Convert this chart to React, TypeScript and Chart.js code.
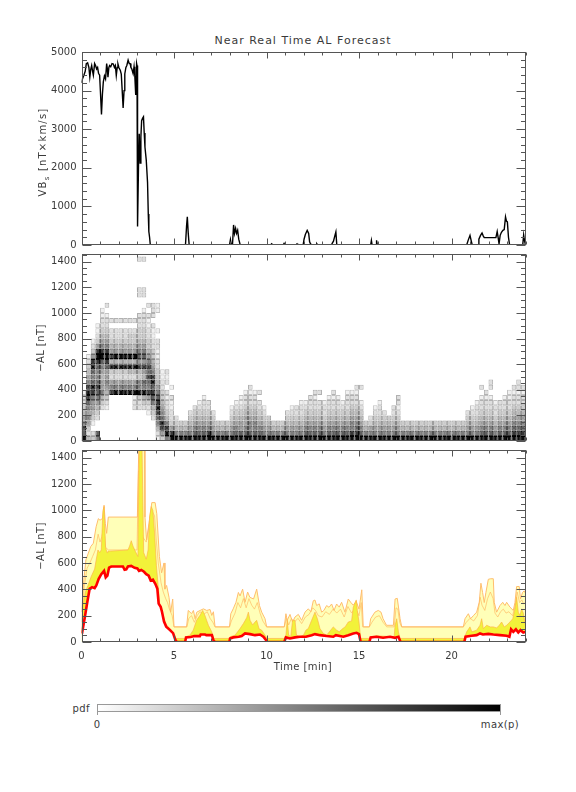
import React, { useEffect, useRef } from 'react';
import { Chart, registerables } from 'chart.js';
Chart.register(...registerables);

const FONT = 'DejaVu Sans';
const TEXT = '#3a3a3a';

// ---------- axes ----------
const TIME_MIN = 0;
const TIME_MAX = 24;
const xTickLabels = [0, 5, 10, 15, 20];
const vbsTickLabels = [0, 1000, 2000, 3000, 4000, 5000];
const alTickLabels = [0, 200, 400, 600, 800, 1000, 1200, 1400];
const VBS_MAX = 5000;
const AL_MAX = 1460;

// ---------- panel 1: VBs ----------
const vbsTime = [
  0, 0.05, 0.13, 0.2, 0.26, 0.33, 0.4, 0.45, 0.5, 0.55,
  0.6, 0.64, 0.71, 0.76, 0.82, 0.87, 0.92, 0.98, 1.03, 1.08,
  1.13, 1.18, 1.24, 1.3, 1.36, 1.4, 1.43, 1.48, 1.52, 1.58,
  1.65, 1.72, 1.78, 1.83, 1.88, 1.93, 1.97, 2.02, 2.06, 2.1,
  2.15, 2.2, 2.25, 2.3, 2.34, 2.4, 2.45, 2.52, 2.58, 2.63,
  2.67, 2.72, 2.79, 2.84, 2.88, 2.93, 2.98, 3.0, 3.03, 3.08,
  3.12, 3.17, 3.21, 3.25, 3.3, 3.35, 3.39, 3.43, 3.5, 3.57,
  3.61, 3.64, 3.68, 3.72,
  5.62, 5.68, 5.72, 5.77, 5.82,
  8.0, 8.05, 8.1, 8.16, 8.22, 8.27, 8.33, 8.38, 8.44, 8.5, 8.58,
  10.22, 10.28, 10.34, 10.9, 10.95, 11.0, 11.6, 11.65, 11.7,
  11.98, 12.03, 12.1, 12.2, 12.28, 12.33, 12.38, 12.45,
  12.68, 12.72, 12.76,
  13.5, 13.55, 13.62, 13.7, 13.75, 13.8,
  15.63, 15.67, 15.71, 15.92, 15.95, 15.99,
  20.82, 20.9, 21.0, 21.07, 21.12,
  21.44, 21.48, 21.57, 21.65, 21.72, 21.77, 22.4, 22.47, 22.52, 22.57,
  22.63, 22.7, 22.78, 22.85, 22.92, 22.97, 23.02, 23.08, 23.14,
  23.85, 23.9, 23.95, 24.0,
];
const vbsValue = [
  4200, 4300, 4400, 4500, 4700, 4720, 4600, 4350, 4550, 4650,
  4500, 4400, 4700, 4650, 4560, 4600, 4450, 4400, 3900, 3380,
  3900, 4230, 4380, 4300, 4700, 4550, 4350, 4600, 4650, 4620,
  4700, 4690, 4600, 4650, 4390, 4600, 4690, 4600, 4560, 4520,
  4430, 4000, 3550, 4000, 4430, 4600, 4650, 4790, 4700, 4700,
  4600, 4560, 4440, 4620, 4400, 3890, 4700, 4650, 480, 2000,
  2880, 2120, 2800, 3220, 3280, 3320, 2900, 2540, 2200, 1620,
  800, 350, 200, 0,
  0, 500, 730, 300, 0,
  0, 140, 0, 0, 520, 300, 430, 300, 380, 150, 0,
  0, 30, 0, 0, 40, 0, 0, 30, 0,
  0, 150, 270, 380, 300, 80, 30, 0,
  0, 30, 0,
  0, 40, 100, 250, 340, 0,
  0, 120, 0, 0, 120, 0,
  0, 120, 250, 100, 0,
  0, 150, 250, 310, 230, 190, 190, 350, 200, 30,
  250, 330, 380, 400, 730, 620, 600, 200, 0,
  0, 260, 100, 0,
];

// ---------- panel 2: pdf histogram ----------
const HEAT_DT = 0.25; // min per column
const HEAT_DV = 40; // nT per row
// each string: one time column, one digit per 40 nT bin from 0 upward (0 = empty, 9 = max)
const heatColumns = [
  '9786543221',
  '42356567898654321',
  '32013455689767985321',
  '67002345678766789853211',
  '00000023465545679865432211',
  '000000123456557898654322102',
  '000000000865239485432202',
  '000000000965239495432202',
  '000000000965239495432202',
  '000000000965239495432202',
  '000000000965249495433202',
  '000000221965249495433202',
  '000000223966348576543322200022000002',
  '000000234967458576543322210022000002',
  '000001235867878654332211202',
  '000023467879865433221120222',
  '124678987654332211220100011',
  '35897654332211',
  '69864322120212',
  '98532211201',
  '96432', '9643', '9643', '965432', '9765432', '97654321', '976543221', '98654322', '965432', '9643',
  '9643', '9643', '9654321', '97654321', '975543211', '9765543221', '97665432212', '9766543221', '9765432202', '9654321',
  '96543', '9643', '9643', '9643', '965432', '9654321', '9654322', '96543221', '97654321', '976543222',
  '9765432212', '9765432202', '96543221', '976543221', '9765432212', '976543221', '97654321', '9765432221', '9866543221', '98765432212',
  '97654321002', '9643', '96532', '9654321', '96543221', '965432', '96543', '9654322', '965432122', '9643',
  '9643', '9643', '9643', '9643', '9643', '9643', '9643', '9643', '9643', '9643',
  '9643', '9643', '9643', '965432', '9654321', '96543221', '97654322102', '9765432212', '976543221022', '96543221',
  '97654322', '976543221', '9765432211', '98765432212', '987654322122', '98765432212',
];
const heatGray = [255, 240, 222, 202, 180, 155, 125, 95, 55, 12];

// ---------- panel 3: forecast bands ----------
const redTime = [
  0, 0.03, 0.17, 0.31, 0.44, 0.57, 0.71, 0.8, 0.93, 1.07,
  1.22, 1.31, 1.4, 1.49, 1.61, 2.24, 2.33, 2.42, 2.51, 2.69,
  2.87, 3.02, 3.11, 3.23, 3.38, 3.5, 3.63, 3.74, 3.86, 3.99,
  4.1, 4.17, 4.28, 4.35, 4.46, 4.58, 4.77, 4.95, 5.07, 5.15,
  5.6, 5.65, 5.9, 6.1, 6.4, 6.44, 6.68, 6.75, 7.05, 7.13,
  7.16, 7.99, 8.03, 8.2, 8.5, 8.66, 8.84, 9.11, 9.38, 9.65,
  9.83, 9.97, 10.04, 10.96, 11.05, 11.27, 11.54, 11.81, 12.13, 12.44,
  12.62, 12.89, 13.25, 13.61, 13.75, 14.15, 14.42, 14.69, 14.87, 15.0,
  15.09, 15.56, 15.63, 15.95, 16.3, 16.68, 16.95, 17.13, 17.25, 20.69,
  20.76, 21.09, 21.36, 21.54, 21.7, 21.99, 22.26, 22.62, 22.98, 23.13,
  23.22, 23.34, 23.48, 23.61, 23.73, 23.88, 24.0,
];
const redValue = [
  65, 67, 180, 300, 405, 417, 409, 430, 480, 516,
  541, 491, 504, 566, 574, 574, 549, 552, 574, 579,
  564, 559, 541, 548, 534, 516, 504, 467, 474, 442,
  404, 292, 267, 230, 155, 117, 92, 67, 17, 0,
  0, 35, 38, 45, 45, 57, 57, 52, 52, 15,
  0, 0, 27, 35, 40, 45, 65, 60, 52, 57,
  40, 15, 0, 0, 35, 27, 35, 40, 40, 52,
  60, 52, 45, 40, 52, 40, 52, 65, 70, 60,
  0, 0, 35, 40, 32, 40, 32, 40, 0, 0,
  40, 47, 52, 65, 57, 62, 57, 52, 47, 40,
  97, 77, 97, 72, 90, 72, 77,
];
const midTime = [
  0, 0.08, 0.21, 0.35, 0.53, 0.71, 0.8, 0.89, 0.98, 1.07,
  1.16, 1.22, 1.3, 1.38, 1.43, 2.51, 2.6, 2.69, 2.78, 2.91,
  3.05, 3.12, 3.27, 3.36, 3.5, 3.6, 3.68, 3.77, 3.86, 3.95,
  4.05, 4.13, 4.23, 4.4, 4.58, 4.85, 5.0, 5.1, 5.6, 5.65,
  5.86, 6.04, 6.22, 6.4, 6.55, 6.67, 6.86, 7.04, 7.13, 8.0,
  8.03, 8.3, 8.57, 8.75, 8.93, 9.02, 9.11, 9.25, 9.38, 9.47,
  9.6, 9.74, 9.92, 10.04, 10.96, 11.05, 11.12, 11.2, 11.31, 11.41,
  11.54, 11.62, 11.81, 12.0, 12.13, 12.26, 12.44, 12.62, 12.75, 12.89,
  13.07, 13.25, 13.47, 13.61, 13.79, 13.93, 14.12, 14.25, 14.42, 14.6,
  14.69, 14.85, 14.91, 15.0, 15.09, 15.56, 15.63, 15.95, 16.9, 16.95,
  17.04, 17.13, 17.22, 20.69, 20.82, 21.0, 21.1, 21.36, 21.54, 21.63,
  21.72, 21.9, 22.1, 22.26, 22.44, 22.58, 22.71, 22.85, 22.98, 23.16,
  23.31, 23.43, 23.52, 23.61, 23.7, 23.79, 23.88, 24.0,
];
const midValue = [
  70, 280, 380, 430, 500, 555, 630, 700, 680, 700,
  1000, 1030, 720, 680, 690, 700, 730, 770, 730, 690,
  650, 1500, 1500, 680, 630, 700, 950, 1030, 1000, 830,
  580, 450, 280, 205, 130, 92, 60, 27, 27, 40,
  52, 90, 165, 202, 240, 202, 127, 77, 27, 27,
  40, 52, 102, 140, 185, 227, 165, 130, 152, 165,
  100, 90, 52, 27, 27, 52, 165, 52, 40, 165,
  165, 52, 40, 52, 90, 102, 165, 227, 177, 102,
  65, 52, 90, 115, 90, 77, 102, 115, 152, 160,
  264, 320, 240, 152, 27, 27, 40, 47, 40, 127,
  177, 77, 27, 27, 77, 115, 77, 90, 127, 177,
  102, 127, 115, 115, 107, 127, 152, 115, 127, 152,
  177, 252, 340, 227, 202, 252, 220, 127,
];
const innerTime = [
  0, 0.15, 0.3, 0.45, 0.6, 0.75, 0.9, 1.0, 1.1, 1.2,
  1.3, 1.45, 3.0, 3.08, 3.2, 3.3, 3.5, 3.65, 3.8, 3.95,
  4.05, 4.15, 4.3, 4.42, 4.55, 4.65, 4.75, 4.9, 5.0, 5.7,
  5.8, 5.95, 6.1, 6.25, 6.4, 6.6, 6.8, 6.95, 7.1, 7.22,
  8.0, 8.1, 8.3, 8.45, 8.6, 8.75, 8.9, 9.05, 9.2, 9.35,
  9.5, 9.65, 9.8, 10.0, 10.96, 11.08, 11.2, 11.35, 11.5, 11.7,
  11.9, 12.1, 12.3, 12.5, 12.65, 12.8, 13.0, 13.2, 13.4, 13.6,
  13.8, 14.0, 14.2, 14.4, 14.6, 14.8, 15.0, 15.12, 15.2, 15.56,
  15.7, 15.9, 16.1, 16.3, 16.5, 16.9, 17.0, 17.1, 17.2, 17.3,
  20.64, 20.8, 21.0, 21.2, 21.4, 21.55, 21.65, 21.8, 21.95, 22.1,
  22.25, 22.35, 22.5, 22.65, 22.8, 22.95, 23.1, 23.3, 23.45, 23.55,
  23.68, 23.8, 23.9, 24.0,
];
const innerValue = [
  150, 420, 560, 600, 650, 700, 820, 760, 800, 880,
  720, 700, 700, 1300, 1300, 800, 760, 880, 1000, 960,
  760, 600, 450, 380, 330, 300, 250, 200, 115, 115,
  180, 200, 150, 200, 230, 210, 230, 180, 150, 115,
  115, 160, 220, 300, 260, 330, 260, 330, 280, 250,
  300, 220, 160, 115, 115, 180, 130, 180, 150, 180,
  140, 190, 210, 260, 240, 200, 190, 230, 210, 250,
  220, 250, 190, 270, 220, 260, 200, 300, 115, 115,
  150, 190, 200, 150, 115, 115, 260, 250, 150, 115,
  115, 150, 180, 160, 200, 340, 280, 240, 330, 380,
  330, 220, 190, 230, 250, 220, 230, 200, 280, 380,
  300, 320, 290, 300,
];
const outerTime = [
  0, 0.13, 0.24, 0.37, 0.5, 0.64, 0.79, 0.91, 1.0, 1.14,
  1.22, 1.29, 1.36, 1.45, 3.02, 3.1, 3.4, 3.43, 3.52, 3.67,
  3.8, 3.98, 4.07, 4.21, 4.33, 4.46, 4.51, 4.6, 4.73, 4.82,
  4.93, 5.0, 5.68, 5.77, 5.95, 6.05, 6.14, 6.23, 6.41, 6.59,
  6.77, 6.95, 7.04, 7.13, 7.22, 8.0, 8.07, 8.2, 8.35, 8.48,
  8.57, 8.71, 8.84, 8.98, 9.1, 9.3, 9.47, 9.62, 9.74, 9.92,
  10.01, 10.96, 11.05, 11.12, 11.27, 11.41, 11.54, 11.72, 11.9, 12.08,
  12.26, 12.4, 12.53, 12.62, 12.71, 12.85, 12.98, 13.1, 13.25, 13.38,
  13.52, 13.65, 13.79, 13.93, 14.06, 14.24, 14.42, 14.55, 14.69, 14.85,
  15.0, 15.15, 15.23, 15.56, 15.63, 15.86, 16.04, 16.19, 16.3, 16.49,
  16.86, 16.95, 17.07, 17.22, 17.31, 20.64, 20.73, 20.91, 21.03, 21.18,
  21.36, 21.5, 21.59, 21.68, 21.77, 21.86, 21.99, 22.12, 22.26, 22.31,
  22.44, 22.62, 22.77, 22.89, 22.98, 23.16, 23.34, 23.43, 23.52, 23.66,
  23.73, 23.84, 23.93, 24.0,
];
const outerValue = [
  227, 477, 626, 676, 726, 751, 876, 938, 926, 940,
  1040, 900, 826, 950, 950, 1500, 1500, 950, 776, 925,
  1060, 1060, 975, 651, 526, 601, 402, 430, 340, 227,
  327, 115, 115, 240, 215, 240, 177, 227, 240, 252,
  240, 247, 202, 230, 115, 115, 215, 252, 302, 377,
  350, 402, 302, 380, 340, 327, 402, 277, 227, 177,
  115, 115, 215, 165, 210, 152, 190, 210, 165, 227,
  252, 230, 314, 319, 277, 290, 227, 240, 277, 264,
  289, 240, 289, 265, 302, 227, 327, 302, 280, 310,
  250, 397, 115, 115, 177, 227, 240, 227, 177, 127,
  127, 327, 332, 177, 115, 115, 177, 215, 177, 200,
  227, 302, 447, 377, 300, 377, 477, 481, 481, 302,
  227, 277, 302, 277, 302, 265, 240, 300, 422, 422,
  327, 377, 389, 370,
];

// ---------- helpers ----------
const pts = (ts: number[], vs: number[]) => ts.map((t, i) => ({ x: t, y: vs[i] }));
const grayCss = (g: number) => `rgb(${g},${g},${g})`;

const heatCells: { x: number; y: [number, number]; d: number }[] = [];
heatColumns.forEach((col, i) => {
  for (let k = 0; k < col.length; k++) {
    const d = Number(col[k]);
    if (d > 0) heatCells.push({ x: (i + 0.5) * HEAT_DT, y: [k * HEAT_DV, (k + 1) * HEAT_DV], d });
  }
});

const tickFont = { family: FONT, size: 10 };

function axisX(showLabels: boolean, height: number) {
  return {
    type: 'linear',
    min: TIME_MIN,
    max: TIME_MAX,
    offset: false,
    grid: { display: false, drawTicks: false },
    border: { display: false },
    afterBuildTicks: (s: any) => {
      s.ticks = xTickLabels.map((v) => ({ value: v }));
    },
    ticks: {
      display: showLabels,
      autoSkip: false,
      maxRotation: 0,
      padding: 8,
      font: tickFont,
      color: TEXT,
      callback: (v: any) => String(v),
    },
    afterFit: (s: any) => {
      s.height = height;
    },
  };
}

function axisY(max: number, labels: number[]) {
  return {
    type: 'linear',
    min: 0,
    max,
    grid: { display: false, drawTicks: false },
    border: { display: false },
    afterBuildTicks: (s: any) => {
      s.ticks = labels.map((v) => ({ value: v }));
    },
    ticks: {
      autoSkip: false,
      padding: 5,
      font: tickFont,
      color: TEXT,
      callback: (v: any) => String(v),
    },
    afterFit: (s: any) => {
      s.width = 81.5;
    },
  };
}

// box with inward tick marks on all four sides
function framePlugin(yMinor: number, yMajor: number) {
  return {
    id: 'frame',
    afterDraw(chart: any) {
      const { ctx, chartArea: a, scales } = chart;
      const xs = scales.x;
      const ys = scales.y;
      ctx.save();
      ctx.strokeStyle = '#555';
      ctx.lineWidth = 1;
      const L = Math.round(a.left) + 0.5;
      const R = Math.round(a.right) - 0.5;
      const T = Math.round(a.top) + 0.5;
      const B = Math.round(a.bottom) - 0.5;
      ctx.strokeRect(L, T, R - L, B - T);
      ctx.beginPath();
      for (let t = TIME_MIN; t <= TIME_MAX; t += 1) {
        const px = Math.round(xs.getPixelForValue(t)) + 0.5;
        const len = t % 5 === 0 ? 6 : 3;
        ctx.moveTo(px, B);
        ctx.lineTo(px, B - len);
        ctx.moveTo(px, T);
        ctx.lineTo(px, T + len);
      }
      for (let v = 0; v <= ys.max; v += yMinor) {
        const py = Math.round(ys.getPixelForValue(v)) + 0.5;
        const len = v % yMajor === 0 ? 9 : 4.5;
        ctx.moveTo(L, py);
        ctx.lineTo(L + len, py);
        ctx.moveTo(R, py);
        ctx.lineTo(R - len, py);
      }
      ctx.stroke();
      ctx.restore();
    },
  };
}

function baseOptions(padding: any) {
  return {
    responsive: false,
    animation: false,
    events: [],
    layout: { padding },
    plugins: { legend: { display: false }, tooltip: { enabled: false } },
  };
}

const RIGHT_PAD = 50.5;

export default function App() {
  const c1 = useRef<HTMLCanvasElement>(null);
  const c2 = useRef<HTMLCanvasElement>(null);
  const c3 = useRef<HTMLCanvasElement>(null);

  useEffect(() => {
    const charts: Chart[] = [];
    charts.push(
      new Chart(c1.current as HTMLCanvasElement, {
        type: 'line',
        data: {
          datasets: [
            {
              data: pts(vbsTime, vbsValue),
              borderColor: '#000',
              borderWidth: 1.4,
              pointRadius: 0,
              tension: 0,
              fill: false,
            },
          ],
        },
        options: {
          ...baseOptions({ top: 8, bottom: 8.5, left: 0, right: RIGHT_PAD }),
          scales: { x: axisX(false, 0), y: axisY(VBS_MAX, vbsTickLabels) },
        } as any,
        plugins: [framePlugin(200, 1000)],
      })
    );
    charts.push(
      new Chart(c2.current as HTMLCanvasElement, {
        type: 'bar',
        data: {
          datasets: [
            {
              data: heatCells as any,
              backgroundColor: (c: any) => (c.raw ? grayCss(heatGray[c.raw.d]) : '#fff'),
              borderColor: (c: any) => (c.raw ? grayCss(Math.max(0, heatGray[c.raw.d] - 45)) : '#ccc'),
              borderWidth: 1,
              borderSkipped: false,
              barPercentage: 1,
              categoryPercentage: 1,
              inflateAmount: 0,
            } as any,
          ],
        },
        options: {
          ...baseOptions({ top: 8, bottom: 8, left: 0, right: RIGHT_PAD }),
          scales: { x: axisX(false, 0), y: axisY(AL_MAX, alTickLabels) },
        } as any,
        plugins: [framePlugin(50, 200)],
      })
    );
    charts.push(
      new Chart(c3.current as HTMLCanvasElement, {
        type: 'line',
        data: {
          datasets: [
            {
              data: pts(outerTime, outerValue),
              borderColor: '#FFBE6E',
              borderWidth: 1,
              backgroundColor: '#FFFFB8',
              fill: 'origin',
              pointRadius: 0,
              tension: 0,
              order: 4,
            },
            {
              data: pts(innerTime, innerValue),
              borderColor: 'rgba(255,185,100,0.85)',
              borderWidth: 0.8,
              fill: false,
              pointRadius: 0,
              tension: 0,
              order: 3,
            },
            {
              data: pts(midTime, midValue),
              borderColor: 'rgba(255,175,70,0.8)',
              borderWidth: 0.8,
              backgroundColor: '#F2F23A',
              fill: 'origin',
              pointRadius: 0,
              tension: 0,
              order: 2,
            },
            {
              data: pts(redTime, redValue),
              borderColor: '#FF0000',
              borderWidth: 2.6,
              backgroundColor: '#FFFFFF',
              fill: 'origin',
              pointRadius: 0,
              tension: 0,
              order: 1,
            },
          ],
        },
        options: {
          ...baseOptions({ top: 8, bottom: 0, left: 0, right: RIGHT_PAD }),
          scales: { x: axisX(true, 38), y: axisY(AL_MAX, alTickLabels) },
        } as any,
        plugins: [framePlugin(50, 200)],
      })
    );
    return () => charts.forEach((c) => c.destroy());
  }, []);

  const rot = (cx: number, cy: number, spacing: number): React.CSSProperties => ({
    position: 'absolute',
    left: cx,
    top: cy,
    transform: 'translate(-50%, -50%) rotate(-90deg)',
    whiteSpace: 'nowrap',
    fontSize: 10,
    lineHeight: '12px',
    letterSpacing: spacing,
  });

  return (
    <div
      style={{
        position: 'absolute',
        left: 0,
        top: 0,
        width: 576,
        height: 792,
        background: '#fff',
        fontFamily: FONT,
        color: TEXT,
        overflow: 'hidden',
      }}
    >
      <div
        style={{
          position: 'absolute',
          left: 0,
          width: 606,
          top: 34,
          textAlign: 'center',
          fontSize: 11,
          lineHeight: '14px',
          letterSpacing: 1,
          whiteSpace: 'nowrap',
        }}
      >
        Near Real Time AL Forecast
      </div>
      <canvas ref={c1} width={576} height={215} style={{ position: 'absolute', left: 0, top: 41 }} />
      <canvas ref={c2} width={576} height={209} style={{ position: 'absolute', left: 0, top: 243 }} />
      <canvas ref={c3} width={576} height={241} style={{ position: 'absolute', left: 0, top: 439 }} />
      <div style={rot(43, 152, 1.2)}>
        VB<span style={{ fontSize: 7, position: 'relative', top: 3 }}>s</span> [nT×km/s]
      </div>
      <div style={rot(41, 348, 0.4)}>−AL [nT]</div>
      <div style={rot(41, 546, 0.4)}>−AL [nT]</div>
      <div
        style={{
          position: 'absolute',
          left: 0,
          width: 606,
          top: 661,
          textAlign: 'center',
          fontSize: 10,
          lineHeight: '12px',
          letterSpacing: 0.4,
        }}
      >
        Time [min]
      </div>
      {/* colour bar legend */}
      <div
        style={{
          position: 'absolute',
          left: 60,
          width: 30,
          top: 703,
          textAlign: 'right',
          fontSize: 10,
          lineHeight: '12px',
          letterSpacing: 0.4,
        }}
      >
        pdf
      </div>
      <div
        style={{
          position: 'absolute',
          left: 97,
          top: 704,
          width: 404,
          height: 8,
          boxSizing: 'border-box',
          border: '1px solid #999',
          background: 'linear-gradient(to right, #ffffff, #000000)',
        }}
      />
      <div style={{ position: 'absolute', left: 97, top: 711, width: 1, height: 4, background: '#999' }} />
      <div style={{ position: 'absolute', left: 500, top: 711, width: 1, height: 4, background: '#999' }} />
      <div
        style={{ position: 'absolute', left: 92, width: 10, top: 719, textAlign: 'center', fontSize: 10, lineHeight: '12px' }}
      >
        0
      </div>
      <div
        style={{
          position: 'absolute',
          left: 470,
          width: 60,
          top: 719,
          textAlign: 'center',
          fontSize: 10,
          lineHeight: '12px',
          letterSpacing: 0.4,
        }}
      >
        max(p)
      </div>
    </div>
  );
}
